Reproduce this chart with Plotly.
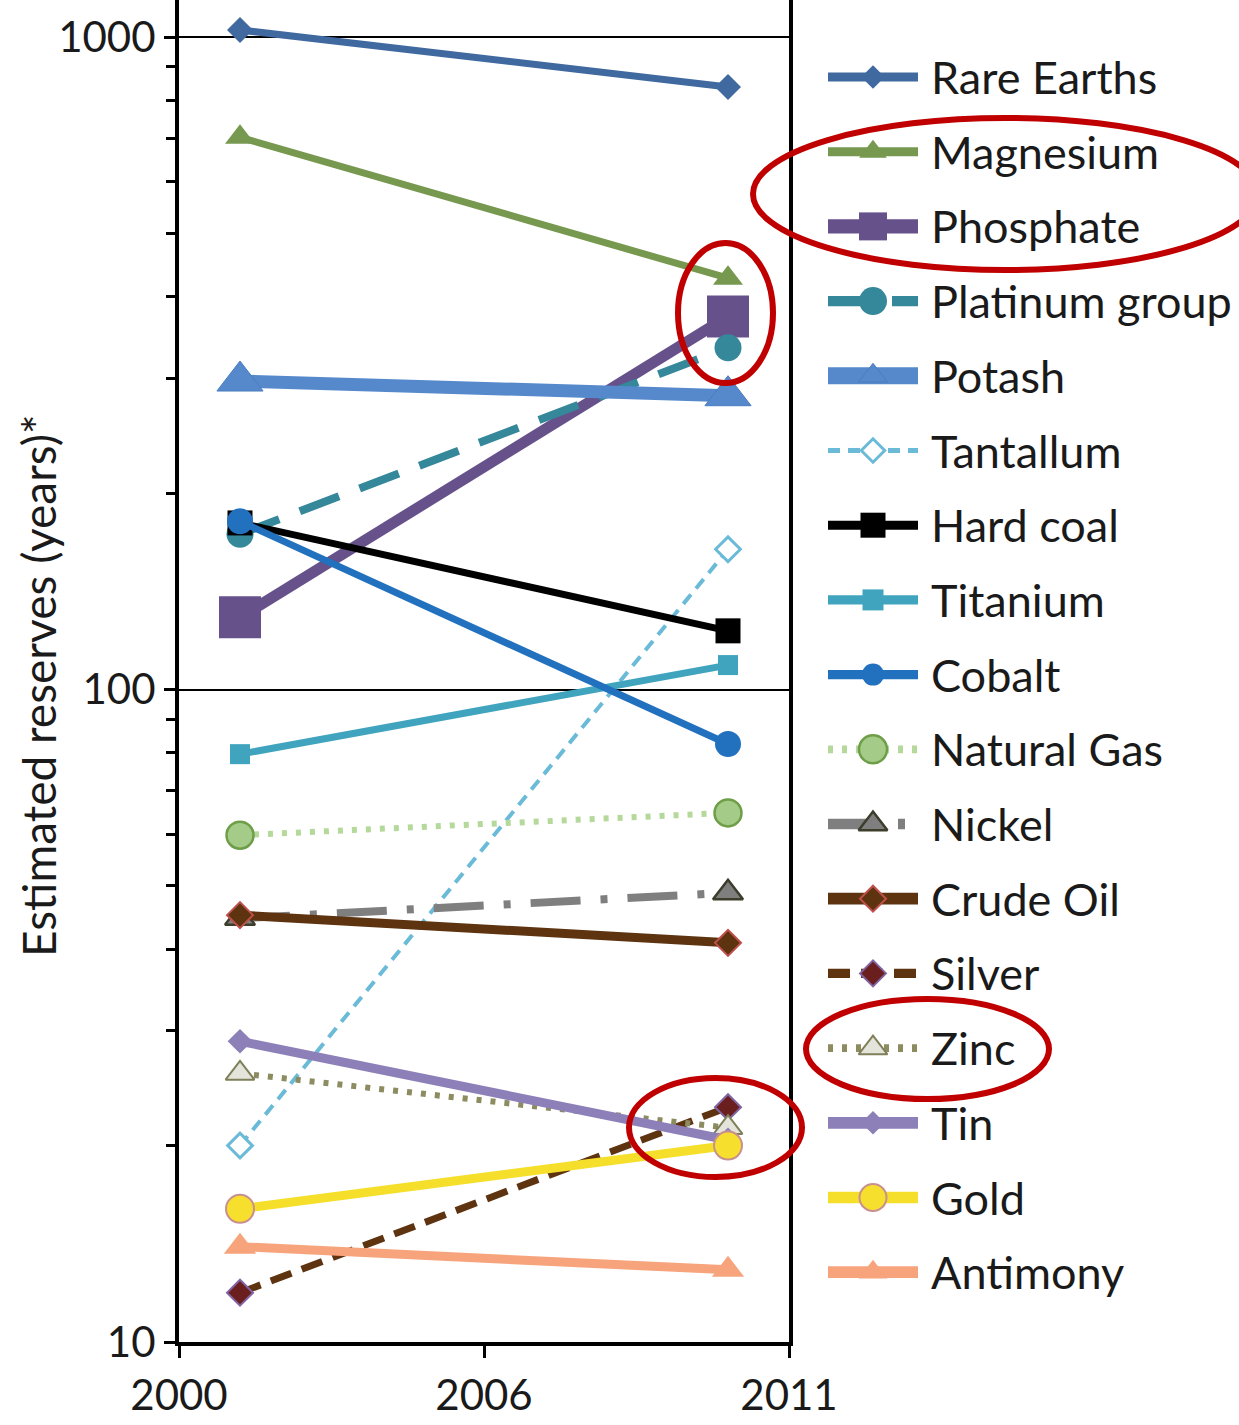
import plotly.graph_objects as go

# ---------------- data ----------------
year_labels = ["2000", "2006", "2011"]
year_slots = [0, 1, 2]          # evenly spaced category slots on the x axis
obs_slots = [0.2, 1.8]          # positions of the two estimates (c. 2001 and c. 2010)

minerals = ["Rare Earths", "Magnesium", "Phosphate", "Platinum group", "Potash",
            "Tantallum", "Hard coal", "Titanium", "Cobalt", "Natural Gas",
            "Nickel", "Crude Oil", "Silver", "Zinc", "Tin", "Gold", "Antimony"]

rare_earths = [1025, 838]
magnesium = [702, 427]
phosphate = [129, 373]
platinum_group = [173, 334]
potash = [297, 282]
tantallum = [20.0, 164]
hard_coal = [180, 123]
titanium = [79.6, 109]
cobalt = [181, 82.5]
natural_gas = [59.8, 64.7]
nickel = [44.6, 48.8]
crude_oil = [45.1, 40.9]
silver = [11.9, 22.9]
zinc = [25.8, 21.3]
tin = [28.9, 20.4]
gold = [16.0, 20.0]
antimony = [14.0, 12.9]

reserves = [rare_earths, magnesium, phosphate, platinum_group, potash,
            tantallum, hard_coal, titanium, cobalt, natural_gas,
            nickel, crude_oil, silver, zinc, tin, gold, antimony]

y_major = [10, 100, 1000]
y_minor = [20, 30, 40, 50, 60, 70, 80, 90, 200, 300, 400, 500, 600, 700, 800, 900]
y_title = "Estimated reserves (years)*"

# ---------------- styles ----------------
S = {
    "Rare Earths":    dict(c="#4069A0", w=7,  dash="solid", sym="diamond", sz=20, fill="#4069A0", edge="#4069A0", ew=0, leg=18),
    "Magnesium":      dict(c="#76984F", w=7,  dash="solid", sym="triangle-up", sz=26, fill="#76984F", edge="#76984F", ew=0, leg=24),
    "Phosphate":      dict(c="#66518A", w=11, dash="solid", sym="square", sz=42, fill="#66518A", edge="#66518A", ew=0, leg=28),
    "Platinum group": dict(c="#35879A", w=8,  dash="42px,22px", sym="circle", sz=27, fill="#35879A", edge="#35879A", ew=0, leg=28),
    "Potash":         dict(c="#5589CC", w=13, dash="solid", sym="triangle-up", sz=40, fill="#5589CC", edge="#4A7CC0", ew=1, leg=25),
    "Tantallum":      dict(c="#6ABAD8", w=4,  dash="12px,8px", sym="diamond", sz=19, fill="#FFFFFF", edge="#6ABAD8", ew=3, leg=18),
    "Hard coal":      dict(c="#000000", w=7,  dash="solid", sym="square", sz=25, fill="#000000", edge="#000000", ew=0, leg=25),
    "Titanium":       dict(c="#40A4BE", w=7,  dash="solid", sym="square", sz=20, fill="#40A4BE", edge="#40A4BE", ew=0, leg=21),
    "Cobalt":         dict(c="#2271BE", w=7,  dash="solid", sym="circle", sz=26, fill="#2271BE", edge="#2271BE", ew=0, leg=22),
    "Natural Gas":    dict(c="#B5D89B", w=6,  dash="5px,9px", sym="circle", sz=27, fill="#A5CB88", edge="#6E9E48", ew=2.5, leg=28),
    "Nickel":         dict(c="#7F7F7F", w=8,  dash="50px,20px,7px,20px", sym="triangle-up", sz=26, fill="#7F7F7F", edge="#3D3D2B", ew=2.5, leg=25),
    "Crude Oil":      dict(c="#5E3310", w=9,  dash="solid", sym="diamond", sz=20, fill="#5E3310", edge="#C0504D", ew=2, leg=20),
    "Silver":         dict(c="#5E3310", w=7,  dash="22px,11px", sym="diamond", sz=20, fill="#6A1E1E", edge="#8064A2", ew=2, leg=20),
    "Zinc":           dict(c="#8C8C60", w=6,  dash="5px,9px", sym="triangle-up", sz=25, fill="#E4E4DA", edge="#7F7F5A", ew=2, leg=25),
    "Tin":            dict(c="#8D7FB8", w=9,  dash="solid", sym="diamond", sz=19, fill="#8D7FB8", edge="#8D7FB8", ew=0, leg=18),
    "Gold":           dict(c="#F5DF2A", w=9,  dash="solid", sym="circle", sz=28, fill="#F7DF2E", edge="#C8908E", ew=2, leg=27),
    "Antimony":       dict(c="#F7A47C", w=9,  dash="solid", sym="triangle-up", sz=28, fill="#F7A47C", edge="#F7A47C", ew=0, leg=25),
}

FONT = "Lato"
TEXT = "#1A1A1A"
RED = "#C00000"

# figure geometry (pixels)
W, H = 1239, 1425
ML, MB = 179, 83
PW, PH = W - ML, H - MB
PLOT_RIGHT = 789
LEG_LEFT = 800

fig = go.Figure()

# main series
for name, vals in zip(minerals, reserves):
    s = S[name]
    fig.add_trace(go.Scatter(
        x=obs_slots, y=vals, mode="lines+markers", name=name, showlegend=False,
        line=dict(color=s["c"], width=s["w"], dash=s["dash"]),
        marker=dict(symbol=s["sym"], size=s["sz"], color=s["fill"],
                    line=dict(color=s["edge"], width=s["ew"])),
        xaxis="x", yaxis="y",
    ))

# legend drawn in a pixel-unit helper subplot to the right of the plot
LEG_TOP, LEG_STEP = 77, 74.7
LINE_X0, LINE_X1, MARK_X, TEXT_X = 828, 918, 873, 929
annotations = []
for i, name in enumerate(minerals):
    s = S[name]
    yy = LEG_TOP + i * LEG_STEP
    fig.add_trace(go.Scatter(
        x=[LINE_X0, LINE_X1], y=[yy, yy], mode="lines", showlegend=False,
        line=dict(color=s["c"], width=round(s["w"] * 1.3, 1), dash=s["dash"]),
        hoverinfo="skip", xaxis="x2", yaxis="y2",
    ))
    fig.add_trace(go.Scatter(
        x=[MARK_X], y=[yy], mode="markers", showlegend=False,
        marker=dict(symbol=s["sym"], size=s["leg"], color=s["fill"],
                    line=dict(color=s["edge"], width=s["ew"])),
        hoverinfo="skip", xaxis="x2", yaxis="y2",
    ))
    annotations.append(dict(
        text=name, x=TEXT_X, y=yy, xref="x2", yref="y2",
        xanchor="left", yanchor="middle", showarrow=False,
        font=dict(family=FONT, size=45, color=TEXT),
    ))


def px_x(x):
    return (x - ML) / PW


def px_y(y):
    return (PH - y) / PH


# rotated y-axis title
annotations.append(dict(
    text=y_title, x=px_x(38), y=px_y(686), xref="paper", yref="paper",
    xanchor="center", yanchor="middle", textangle=-90, showarrow=False,
    font=dict(family=FONT, size=46, color=TEXT),
))

# red highlight ellipses
ellipses = [
    (753, 118, 1258, 270),   # Magnesium / Phosphate legend entries
    (678, 243, 773, 383),    # Magnesium / Phosphate 2011 points
    (806, 999, 1049, 1099),  # Zinc legend entry
    (629, 1078, 802, 1177),  # Silver / Gold 2011 points
]
shapes = []
for (a, b, c, d) in ellipses:
    shapes.append(dict(type="circle", xref="paper", yref="paper",
                       x0=px_x(a), x1=px_x(c), y0=px_y(d), y1=px_y(b),
                       line=dict(color=RED, width=6), fillcolor="rgba(0,0,0,0)",
                       layer="above"))

fig.update_layout(
    width=W, height=H,
    margin=dict(l=ML, r=0, t=0, b=MB, pad=0, autoexpand=False),
    paper_bgcolor="white", plot_bgcolor="white",
    font=dict(family=FONT, color=TEXT),
    showlegend=False,
    annotations=annotations,
    shapes=shapes,
    xaxis=dict(
        domain=[0, (PLOT_RIGHT - ML) / PW], range=[0, 2], automargin=False,
        tickmode="array", tickvals=year_slots, ticktext=year_labels,
        ticks="outside", ticklen=12, tickwidth=2.5, tickcolor="black",
        ticklabelstandoff=2,
        showline=True, linewidth=4, linecolor="black",
        showgrid=False, zeroline=False,
        tickfont=dict(family=FONT, size=42, color=TEXT),
    ),
    yaxis=dict(
        type="log", range=[1, 3 + 37 / 652.5], automargin=False,
        tickmode="array", tickvals=y_major, ticktext=[str(v) for v in y_major],
        ticks="outside", ticklen=11, tickwidth=2.5, tickcolor="black",
        minor=dict(tickmode="array", tickvals=y_minor, ticks="outside",
                   ticklen=9, tickwidth=2.5, tickcolor="black", showgrid=False),
        showline=True, mirror=True, linewidth=4, linecolor="black",
        showgrid=True, gridcolor="black", gridwidth=2,
        tickfont=dict(family=FONT, size=42, color=TEXT),
    ),
    xaxis2=dict(domain=[px_x(LEG_LEFT), 1], range=[LEG_LEFT, W], automargin=False,
                visible=False, fixedrange=True),
    yaxis2=dict(domain=[0, 1], range=[PH, 0], anchor="x2", automargin=False,
                visible=False, fixedrange=True),
)

fig.write_html("out.html")
